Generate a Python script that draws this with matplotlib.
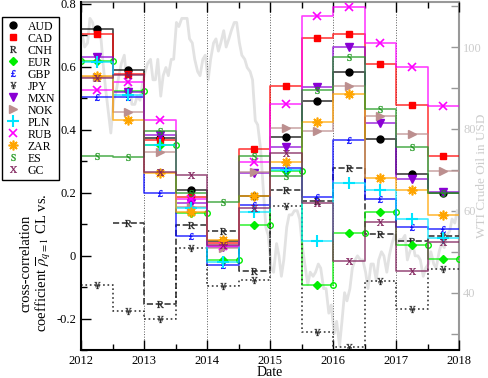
import numpy as np
import pandas as pd
import matplotlib
matplotlib.use("Agg")
import matplotlib.pyplot as plt
from matplotlib.lines import Line2D

plt.rcParams['font.family'] = 'serif'
plt.rcParams['font.serif'] = ['Liberation Serif', 'DejaVu Serif']
plt.rcParams['mathtext.fontset'] = 'stix'

# Half-year windows 2012H1 ... 2017H2
half_years = ['2012H1', '2012H2', '2013H1', '2013H2', '2014H1', '2014H2',
              '2015H1', '2015H2', '2016H1', '2016H2', '2017H1', '2017H2']

aud = [0.72, 0.59, 0.374, 0.21, 0.045, 0.19, 0.376, 0.49, 0.584, 0.371, 0.26, 0.20]
cad = [0.705, 0.577, 0.368, 0.185, 0.04, 0.34, 0.54, 0.69, 0.704, 0.61, 0.478, 0.315]
cnh = [np.nan, 0.105, -0.155, 0.098, 0.077, -0.05, 0.207, 0.175, 0.278, 0.069, 0.048, 0.061]
eur = [0.617, 0.522, 0.352, 0.135, -0.015, 0.098, 0.27, -0.092, 0.072, 0.139, 0.033, -0.01]
gbp = [0.505, 0.505, 0.20, 0.063, -0.03, 0.162, 0.28, 0.185, 0.368, 0.181, 0.09, 0.085]
jpy = [-0.093, -0.175, -0.20, 0.024, -0.097, -0.076, 0.157, -0.243, -0.29, -0.081, -0.169, -0.042]
mxn = [0.63, 0.52, 0.382, 0.168, 0.028, 0.264, 0.346, 0.537, 0.663, 0.422, 0.244, 0.201]
nok = [0.568, 0.457, 0.33, 0.155, 0.025, 0.266, 0.406, 0.395, 0.54, 0.445, 0.386, 0.27]
pln = [0.615, 0.511, 0.35, 0.15, -0.02, 0.14, 0.273, 0.045, 0.23, 0.21, 0.116, 0.055]
rub = [0.527, 0.552, 0.432, 0.18, 0.03, 0.296, 0.483, 0.76, 0.79, 0.677, 0.598, 0.476]
zar = [0.57, 0.43, 0.264, 0.14, 0.05, 0.19, 0.296, 0.425, 0.514, 0.247, 0.207, 0.13]
es = [0.317, 0.314, 0.395, 0.20, 0.17, 0.318, 0.252, 0.525, 0.63, 0.466, 0.344, 0.20]
gc = [0.565, 0.575, 0.267, 0.255, 0.035, 0.15, 0.326, 0.168, -0.016, 0.106, -0.05, 0.042]

# WTI crude oil (USD), twice per month, Jan 2012 - Dec 2017
wti = [103, 100, 101, 107, 106, 103, 103, 104, 96, 90, 84, 79,
       87, 89, 93, 96, 98, 92, 91, 86, 86, 88, 87, 91,
       94, 96, 97, 92, 92, 97, 88, 93, 95, 93, 97, 97,
       106, 105, 107, 107, 107, 102, 101, 97, 94, 93, 97, 98,
       92, 97, 101, 102, 99, 101, 104, 100, 102, 104, 106, 106,
       101, 98, 97, 95, 94, 92, 82, 81, 75, 66, 56, 54,
       46, 45, 52, 49, 44, 48, 56, 59, 59, 60, 60, 58,
       51, 47, 42, 45, 44, 45, 47, 46, 41, 41, 35, 37,
       30, 33, 27, 33, 40, 38, 41, 46, 48, 49, 48, 48,
       45, 41, 47, 47, 43, 48, 50, 49, 45, 49, 52, 54,
       52, 53, 53, 54, 48, 50, 52, 49, 49, 48, 44, 46,
       47, 50, 47, 46, 50, 52, 51, 54, 55, 58, 57, 60]

series = [
    ('AUD', aud, dict(color='black', marker='o', ms=5)),
    ('CAD', cad, dict(color='red', marker='s', ms=5)),
    ('CNH', cnh, dict(color='0.15', marker=r'$\mathrm{R}$', ms=5, ls='--', mew=0.2)),
    ('EUR', eur, dict(color='#00ee00', marker='D', ms=4)),
    ('GBP', gbp, dict(color='blue', marker=r'$£$', ms=5, mew=0.2)),
    ('JPY', jpy, dict(color='0.15', marker=r'$¥$', ms=5, ls=':', mew=0.2)),
    ('MXN', mxn, dict(color='#8a00d4', marker='v', ms=6)),
    ('NOK', nok, dict(color='#bc8f8f', marker='>', ms=6)),
    ('PLN', pln, dict(color='#00e5ff', marker='+', ms=8, mew=1.5)),
    ('RUB', rub, dict(color='#ff00ff', marker='x', ms=6, mew=1.2)),
    ('ZAR', zar, dict(color='#ffa500', marker=(8, 2, 0), ms=7, mew=1.2)),
    ('ES', es, dict(color='#229922', marker=r'$\mathrm{S}$', ms=5, mew=0.2)),
    ('GC', gc, dict(color='#7f1f5a', marker=r'$\mathrm{X}$', ms=5, mew=0.2)),
]

edges = 2012 + 0.5 * np.arange(len(half_years) + 1)
mids = edges[:-1] + 0.25
oil_dates = pd.date_range('2012-01-01', periods=len(wti), freq='SMS') + pd.Timedelta(days=7)
oil_x = oil_dates.year + (oil_dates.dayofyear - 1) / 365.25

fig = plt.figure(figsize=(4.88, 3.78), dpi=100)
ax = fig.add_axes([81 / 488, 1 - 350 / 378, 378 / 488, 348 / 378])
ax2 = ax.twinx()
ax.set_zorder(ax2.get_zorder() + 1)
ax.patch.set_visible(False)

# oil price in the background
ax2.plot(oil_x, wti, color='#e2e2e2', lw=2.0)
ax2.set_ylim(26, 111)
ax2.set_yticks([40, 60, 80, 100])
ax2.set_yticks([30, 50, 70, 90, 110], minor=True)
ax2.tick_params(axis='y', which='both', direction='in', labelcolor='#cccccc',
                color='#999999', labelsize=9, length=6, width=1, pad=3)
for s in ['right', 'top']:
    ax2.spines[s].set_color('#999999')
    ax2.spines[s].set_linewidth(1.5)
ax2.spines['left'].set_visible(False)
ax2.spines['bottom'].set_visible(False)
fig.text(482 / 488, 1 - 176 / 378, 'WTI Crude Oil in USD', color='#cccccc',
         fontsize=9.5, rotation=90, ha='center', va='center')

for yr in range(2013, 2018):
    ax.axvline(yr, color='0.35', ls=':', lw=0.7, zorder=0)

handles = []
for name, vals, st in series:
    vals = np.asarray(vals, dtype=float)
    ls = st.get('ls', '-')
    ax.step(edges, np.append(vals, vals[-1]), where='post', color=st['color'],
            ls=ls, lw=1.2, alpha=0.75 if ls == '-' else 0.9)
    mk = dict(marker=st['marker'], ms=st['ms'], mew=st.get('mew', 1.0))
    ax.plot(mids, vals, ls='none', color=st['color'], **mk)
    if name == 'EUR':
        ax.plot(edges[1:], vals, ls='none', marker='o', ms=4, mfc='none',
                mec=st['color'], mew=1.0)
        ax.plot(edges[:1], vals[:1], ls='none', marker='o', ms=4, mfc='none',
                mec=st['color'], mew=1.0)
    handles.append(Line2D([], [], ls='none', color=st['color'], label=name, **mk))

ax.set_xlim(2012, 2018)
ax.set_ylim(-0.3, 0.806)
ax.set_xticks(range(2012, 2019))
ax.set_xticks(np.arange(2012.5, 2018, 1.0), minor=True)
ax.set_yticks([-0.2, 0, 0.2, 0.4, 0.6, 0.8])
ax.set_yticklabels(['-0.2', '0', '0.2', '0.4', '0.6', '0.8'])
ax.set_yticks([-0.3, -0.1, 0.1, 0.3, 0.5, 0.7], minor=True)
ax.tick_params(which='both', direction='in', top=True, right=False, labelsize=9)
ax.tick_params(which='major', length=7, width=1)
ax.tick_params(which='minor', length=4, width=1)
ax.spines['left'].set_linewidth(1.5)
ax.spines['bottom'].set_linewidth(1.5)
ax.spines['right'].set_visible(False)
ax.spines['top'].set_visible(False)
fig.text(0.5 * (81 + 459) / 488, 1 - 372 / 378, 'Date', fontsize=10,
         ha='center', va='center')

fig.text(36 / 488, 1 - 263 / 378,
         'cross-correlation\n' + r'coefficient $\overline{\rho}_{q=1}$ CL vs.',
         rotation=90, ha='center', va='center', fontsize=10.5, linespacing=1.1)

leg = fig.legend(handles=handles, loc='upper left', bbox_to_anchor=(2 / 488, 1 - 17 / 378),
                 fontsize=8.5, frameon=True, fancybox=False, borderaxespad=0,
                 labelspacing=0.0, handletextpad=0.7, handlelength=1.2,
                 borderpad=0.3, framealpha=1)
leg.get_frame().set_edgecolor('black')
leg.get_frame().set_linewidth(1.0)

fig.savefig('out.png', dpi=100)
